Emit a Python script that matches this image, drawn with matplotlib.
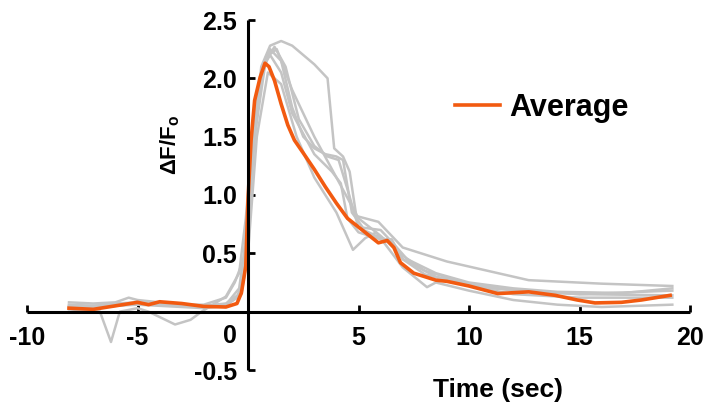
import numpy as np
import matplotlib
matplotlib.use('Agg')
import matplotlib.pyplot as plt

plt.rcParams['font.family'] = ['Liberation Sans', 'DejaVu Sans']
plt.rcParams['font.weight'] = 'bold'
plt.rcParams['mathtext.fontset'] = 'custom'
plt.rcParams['mathtext.bf'] = 'Liberation Sans:bold'
plt.rcParams['mathtext.rm'] = 'Liberation Sans:bold'

# ---------------------------------------------------------------- data
# average trace
avg_t = [-8.1, -7.0, -6.0, -5.0, -4.5, -4.0, -3.0, -2.0, -1.0, -0.5, -0.3, -0.1, 0.0, 0.14, 0.3,
         0.55, 0.77, 0.95, 1.2, 1.5, 1.8, 2.1, 2.5, 3.0, 3.5, 4.0, 4.5, 5.3, 5.9, 6.3, 6.6, 6.9,
         7.5, 8.5, 9.0, 10.0, 11.3, 12.7, 13.9, 14.9, 15.7, 16.9, 17.8, 19.1]
avg_y = [0.03, 0.02, 0.05, 0.08, 0.06, 0.085, 0.07, 0.045, 0.04, 0.07, 0.16, 0.39, 0.96, 1.47, 1.81,
         2.01, 2.13, 2.1, 1.98, 1.78, 1.6, 1.47, 1.36, 1.22, 1.07, 0.93, 0.8, 0.68, 0.59, 0.61, 0.55, 0.42,
         0.33, 0.27, 0.26, 0.22, 0.155, 0.17, 0.14, 0.10, 0.075, 0.08, 0.10, 0.14]

# individual cells (grey)
g1_t = [-8.1, -7.0, -6.0, -5.0, -4.0, -3.0, -2.0, -1.0, -0.5, -0.2, 0.2, 0.6, 1.0, 1.5, 2.0, 2.5,
        3.0, 3.6, 3.9, 4.3, 4.6, 4.9, 5.9, 7.0, 9.0, 12.7, 16.0, 19.2]
g1_y = [0.06, 0.05, 0.07, 0.08, 0.06, 0.05, 0.05, 0.06, 0.12, 0.3, 1.4, 2.1, 2.28, 2.32, 2.28, 2.2,
        2.12, 2.0, 1.4, 1.33, 1.2, 0.82, 0.77, 0.55, 0.43, 0.27, 0.24, 0.22]

g2_t = [-8.1, -7.0, -6.0, -5.4, -5.0, -4.0, -3.0, -2.0, -1.0, -0.6, -0.2, 0.2, 0.6, 1.0, 1.5, 2.0,
        2.5, 3.0, 3.5, 4.0, 4.3, 4.7, 5.2, 6.0, 6.5, 7.0, 8.0, 10.0, 12.0, 15.0, 19.2]
g2_y = [0.08, 0.07, 0.08, 0.12, 0.1, 0.08, 0.06, 0.06, 0.12, 0.25, 0.45, 1.3, 2.0, 2.25, 2.15, 1.75,
        1.5, 1.4, 1.35, 1.33, 1.3, 0.85, 0.72, 0.7, 0.6, 0.45, 0.32, 0.22, 0.15, 0.12, 0.12]

g3_t = [-8.1, -7.0, -6.0, -5.0, -4.0, -3.0, -2.0, -1.0, -0.4, -0.1, 0.3, 0.7, 1.0, 1.5, 2.0, 3.0,
        3.8, 4.2, 4.5, 5.0, 6.0, 6.5, 7.0, 8.5, 11.0, 15.0, 19.2]
g3_y = [0.04, 0.03, 0.05, 0.07, 0.06, 0.05, 0.04, 0.06, 0.2, 0.6, 1.6, 2.1, 2.2, 2.05, 1.7, 1.35,
        1.2, 1.1, 0.8, 0.68, 0.62, 0.62, 0.45, 0.3, 0.2, 0.15, 0.18]

g4_t = [-8.1, -7.0, -6.0, -5.0, -4.0, -3.0, -2.0, -1.0, -0.3, 0.0, 0.4, 0.9, 1.5, 2.2, 3.0, 4.0,
        4.75, 5.3, 5.8, 6.2, 7.0, 8.1, 8.5, 10.0, 12.0, 14.0, 16.0, 19.2]
g4_y = [0.05, 0.04, 0.05, 0.06, 0.05, 0.04, 0.03, 0.05, 0.15, 0.5, 1.5, 2.05, 1.95, 1.5, 1.15, 0.85,
        0.53, 0.63, 0.68, 0.58, 0.38, 0.21, 0.25, 0.18, 0.1, 0.06, 0.04, 0.06]

g5_t = [-8.1, -7.5, -6.7, -6.2, -5.8, -5.0, -4.5, -3.3, -2.6, -2.1, -1.0, -0.4, -0.1, 0.3, 0.8, 1.3,
        2.0, 3.0, 4.0, 5.0, 6.0, 7.0, 8.0, 10.0, 12.0, 15.0, 19.2]
g5_y = [0.02, 0.01, 0.0, -0.26, 0.0, 0.03, 0.0, -0.11, -0.07, 0.0, 0.13, 0.33, 0.8, 1.7, 2.18, 2.25,
        1.9, 1.5, 1.15, 0.8, 0.65, 0.48, 0.35, 0.24, 0.18, 0.15, 0.14]

g6_t = [-8.1, -7.0, -6.0, -5.0, -4.0, -3.0, -2.0, -1.0, -0.4, -0.1, 0.3, 0.8, 1.2, 1.7, 2.3, 3.0,
        3.6, 4.1, 4.5, 5.0, 5.8, 6.5, 7.2, 8.5, 10.0, 12.0, 14.0, 17.0, 19.2]
g6_y = [0.05, 0.05, 0.06, 0.07, 0.07, 0.06, 0.05, 0.07, 0.15, 0.4, 1.5, 2.15, 2.27, 2.1, 1.65, 1.42,
        1.33, 1.3, 1.05, 0.72, 0.65, 0.6, 0.45, 0.33, 0.25, 0.2, 0.17, 0.16, 0.2]

grey_traces = [(g1_t, g1_y), (g2_t, g2_y), (g3_t, g3_y), (g4_t, g4_y), (g5_t, g5_y), (g6_t, g6_y)]

x_ticks = [-10, -5, 0, 5, 10, 15, 20]
x_labels = ['-10', '-5', '', '5', '10', '15', '20']
y_ticks = [-0.5, 0, 0.5, 1.0, 1.5, 2.0, 2.5]
y_labels = ['-0.5', '', '0.5', '1.0', '1.5', '2.0', '2.5']

# ---------------------------------------------------------------- plot
fig = plt.figure(figsize=(7.09, 4.04), dpi=100)
ax = fig.add_axes([27 / 709, 34 / 404, 663 / 709, 350 / 404])

for t, y in grey_traces:
    ax.plot(t, y, color='#c4c4c4', lw=1.8, solid_joinstyle='round')
ax.plot(avg_t, avg_y, color='#f25a10', lw=2.6, label='Average', solid_joinstyle='round')

ax.set_xlim(-10, 20)
ax.set_ylim(-0.5, 2.5)
ax.spines['left'].set_position(('data', 0))
ax.spines['bottom'].set_position(('data', 0))
ax.spines['top'].set_visible(False)
ax.spines['right'].set_visible(False)
for s in ['left', 'bottom']:
    ax.spines[s].set_linewidth(2.2)
    ax.spines[s].set_capstyle('butt')

ax.set_xticks(x_ticks)
ax.set_xticklabels(x_labels)
ax.set_yticks(y_ticks)
ax.set_yticklabels(y_labels)
ax.tick_params(axis='x', direction='in', length=5, width=2, pad=10, labelsize=18)
ax.tick_params(axis='y', direction='in', length=5, width=2, pad=8, labelsize=18)

ax.text(-0.8, -0.21, '0', ha='center', va='center', fontsize=18, fontweight='bold')
ax.text(-3.5, 1.43, r'$\mathbf{\Delta F/F_{o}}$', rotation=90, ha='center', va='center', fontsize=16)
ax.text(11.3, -0.67, 'Time (sec)', ha='center', va='center', fontsize=19, fontweight='bold',
        clip_on=False)

ax.legend(loc='center left', bbox_to_anchor=(0.645, 0.749), frameon=False, fontsize=22,
          handlelength=1.5, handletextpad=0.3, borderpad=0, borderaxespad=0)

fig.savefig('out.png', dpi=100)
